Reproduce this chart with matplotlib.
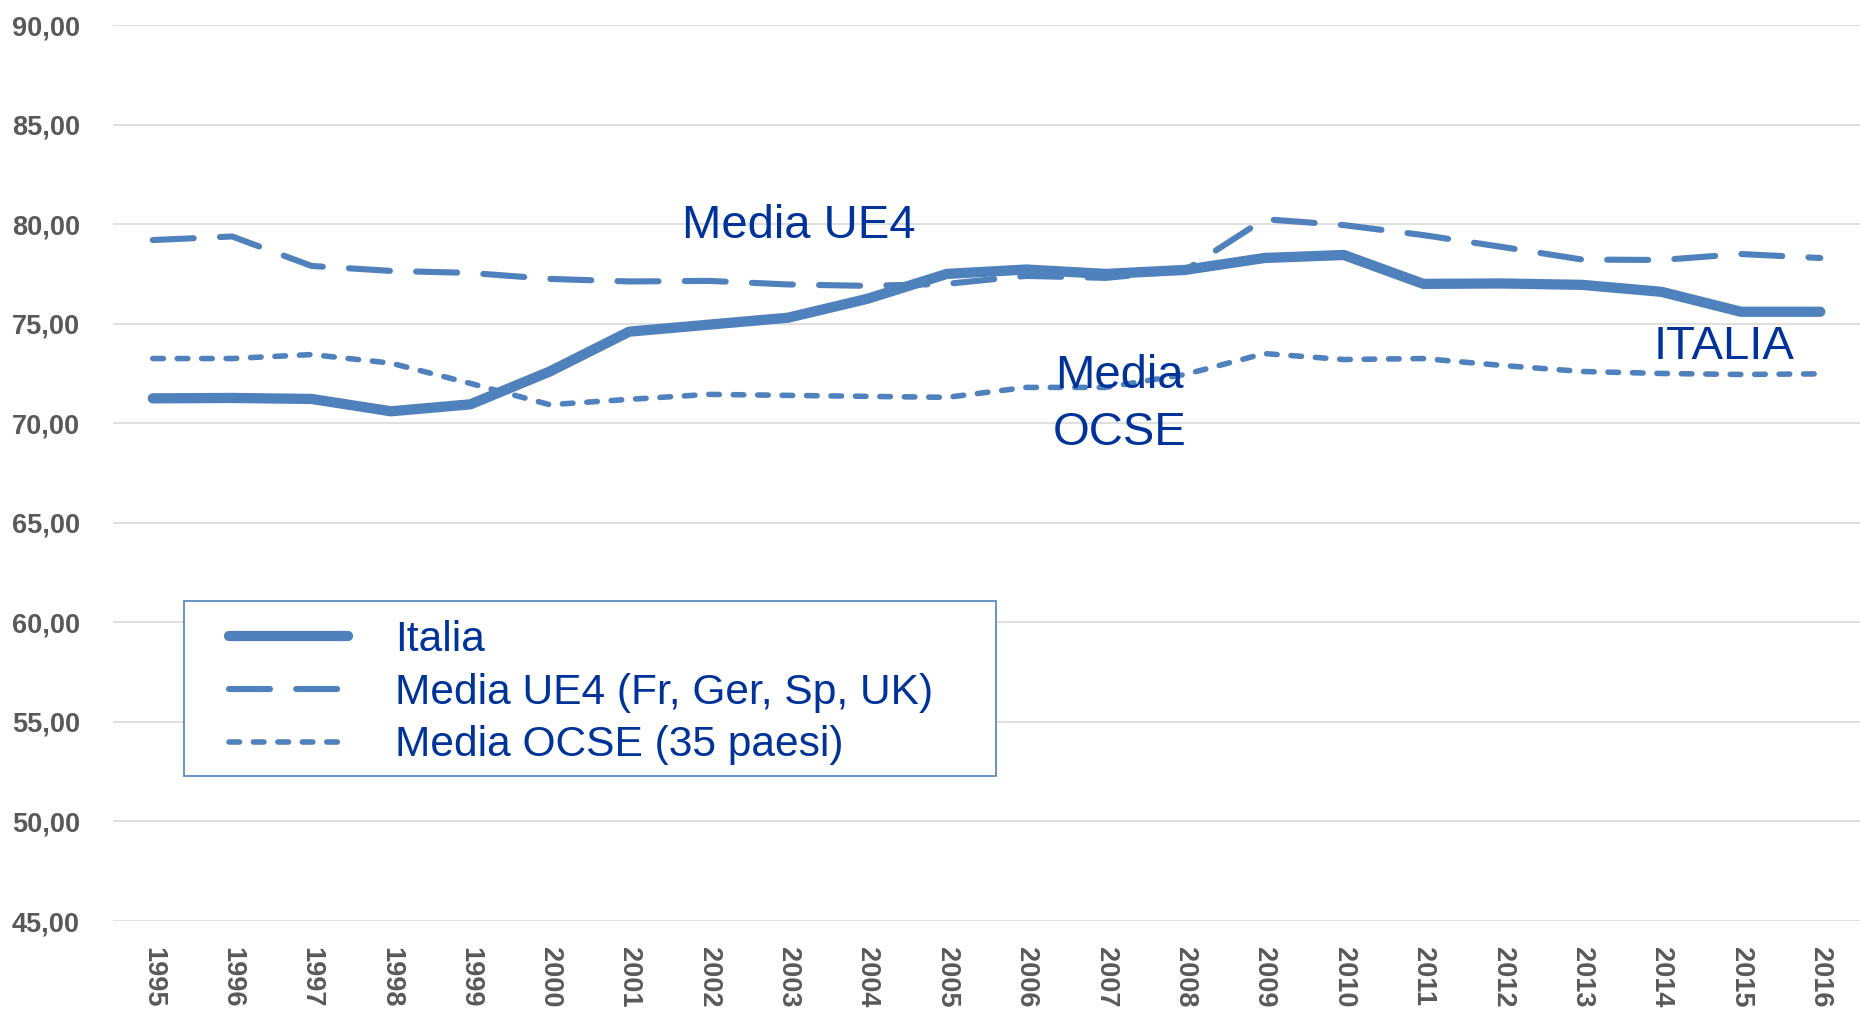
import matplotlib.pyplot as plt
from matplotlib.patches import Rectangle

plt.rcParams['font.family'] = ['Liberation Sans', 'DejaVu Sans']

years = ['1995', '1996', '1997', '1998', '1999', '2000', '2001', '2002', '2003', '2004', '2005',
         '2006', '2007', '2008', '2009', '2010', '2011', '2012', '2013', '2014', '2015', '2016']

italia = [71.25, 71.27, 71.22, 70.6, 70.95, 72.6, 74.6, 74.95, 75.3, 76.25, 77.5,
          77.72, 77.5, 77.7, 78.3, 78.45, 77.0, 77.02, 76.95, 76.6, 75.6, 75.6]
ue4 = [79.2, 79.38, 77.9, 77.65, 77.55, 77.25, 77.12, 77.15, 76.97, 76.9, 77.0,
       77.4, 77.3, 77.68, 80.25, 79.95, 79.45, 78.85, 78.22, 78.2, 78.5, 78.3]
ocse = [73.25, 73.25, 73.45, 73.02, 72.0, 70.93, 71.2, 71.45, 71.4, 71.35, 71.3,
        71.8, 71.8, 72.45, 73.5, 73.2, 73.25, 72.9, 72.6, 72.5, 72.45, 72.48]

y_ticks = [45, 50, 55, 60, 65, 70, 75, 80, 85, 90]
y_labels = ['45,00', '50,00', '55,00', '60,00', '65,00', '70,00', '75,00', '80,00', '85,00', '90,00']

series_names = ['Italia', 'Media UE4 (Fr, Ger, Sp, UK)', 'Media OCSE (35 paesi)']

line_col = '#4F81BD'
text_col = '#003399'
tick_col = '#595959'

fig = plt.figure(figsize=(18.6, 10.09), dpi=100)
ax = fig.add_axes([0.0608, 0.0872, 0.9392, 0.888])

x = list(range(len(years)))
ax.plot(x, italia, color=line_col, lw=7.4, solid_capstyle='round', solid_joinstyle='round',
        label=series_names[0])
ax.plot(x, ue4, color=line_col, lw=4.4, dashes=(6.7, 4.3), dash_capstyle='round',
        dash_joinstyle='round', label=series_names[1])
ax.plot(x, ocse, color=line_col, lw=4.0, dashes=(1.9, 2.5), dash_capstyle='round',
        dash_joinstyle='round', label=series_names[2])

ax.set_xlim(-0.5, len(years) - 0.5)
ax.set_ylim(45, 90)
ax.set_yticks(y_ticks)
ax.set_yticklabels(y_labels, fontsize=19.5, fontweight='bold', color=tick_col)
ax.set_xticks(x)
ax.set_xticklabels(years, rotation=-90, fontsize=19.5, fontweight='bold', color=tick_col,
                   ha='center', va='top')
ax.tick_params(axis='y', length=0, pad=24)
ax.tick_params(axis='x', length=0, pad=19)
ax.grid(axis='y', color='#D9D9D9', lw=1.2)
ax.set_axisbelow(True)
for s in ax.spines.values():
    s.set_visible(False)

ax.text(8.13, 79.92, 'Media UE4', color=text_col, fontsize=34, ha='center', va='center')
ax.text(12.17, 70.95, 'Media\nOCSE', color=text_col, fontsize=34, ha='center', va='center',
        linespacing=1.38)
ax.text(19.79, 73.85, 'ITALIA', color=text_col, fontsize=34, ha='center', va='center')

# legend box drawn separately so the padding can match
box = Rectangle((0.0406, 0.162), 0.4648, 0.195, transform=ax.transAxes,
                facecolor='white', edgecolor=line_col, lw=1.2, zorder=4)
ax.add_patch(box)

leg = ax.legend(loc='upper left', bbox_to_anchor=(0.0664, 0.336), borderaxespad=0,
                borderpad=0, fontsize=30.6, handlelength=2.8, handletextpad=1.1,
                labelspacing=0.3, frameon=False)
leg.set_zorder(5)
for t in leg.get_texts():
    t.set_color(text_col)

fig.savefig('out.png', dpi=100)
